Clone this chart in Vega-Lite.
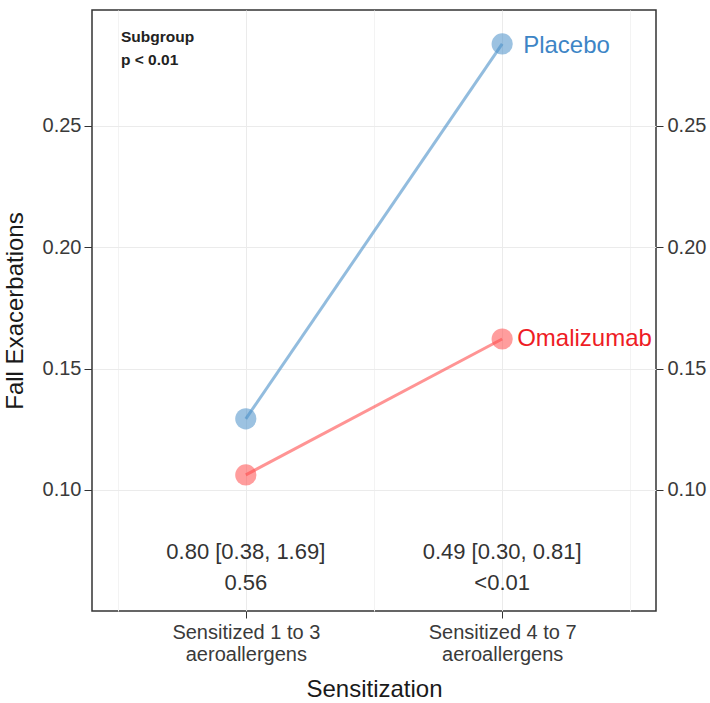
{
  "$schema": "https://vega.github.io/schema/vega-lite/v6.json",
  "autosize": "none",
  "padding": {"left": 92, "top": 10, "right": 54, "bottom": 92},
  "width": 564,
  "height": 601,
  "background": "white",
  "config": {
    "font": "Liberation Sans",
    "view": {"stroke": "#333333", "strokeWidth": 1.5},
    "axis": {
      "domain": false,
      "labelFont": "Liberation Sans",
      "titleFont": "Liberation Sans",
      "labelColor": "#3a3a3a",
      "titleColor": "#1a1a1a",
      "tickColor": "#333333",
      "labelFontSize": 20,
      "titleFontSize": 24,
      "titleFontWeight": "normal",
      "gridColor": "#ebebeb",
      "gridWidth": 1
    }
  },
  "datasets": {
    "pts": [
      {"group": "Placebo", "pos": 1, "sensitization": "Sensitized 1 to 3 aeroallergens", "rate": 0.1293},
      {"group": "Placebo", "pos": 2, "sensitization": "Sensitized 4 to 7 aeroallergens", "rate": 0.2838},
      {"group": "Omalizumab", "pos": 1, "sensitization": "Sensitized 1 to 3 aeroallergens", "rate": 0.1062},
      {"group": "Omalizumab", "pos": 2, "sensitization": "Sensitized 4 to 7 aeroallergens", "rate": 0.1622}
    ],
    "notes": [
      {"pos": 1, "y": 0.0745, "text": "0.80 [0.38, 1.69]"},
      {"pos": 1, "y": 0.0617, "text": "0.56"},
      {"pos": 2, "y": 0.0745, "text": "0.49 [0.30, 0.81]"},
      {"pos": 2, "y": 0.0617, "text": "<0.01"}
    ],
    "corner": [
      {"pos": 0.513, "y": 0.2867, "text": "Subgroup"},
      {"pos": 0.513, "y": 0.2772, "text": "p < 0.01"}
    ]
  },
  "layer": [
    {
      "data": {"name": "pts"},
      "mark": {"type": "line", "strokeWidth": 3, "opacity": 0.6},
      "encoding": {
        "x": {
          "field": "pos", "type": "quantitative",
          "scale": {"domain": [0.4, 2.6], "nice": false, "zero": false},
          "axis": {
            "title": "Sensitization",
            "values": [0.5, 1, 1.5, 2, 2.5],
            "labelExpr": "datum.value == 1 ? ['Sensitized 1 to 3', 'aeroallergens'] : datum.value == 2 ? ['Sensitized 4 to 7', 'aeroallergens'] : ''",
            "labelLineHeight": 22,
            "labelPadding": 4,
            "tickSize": 7,
            "tickColor": {"condition": {"test": "datum.value % 1 !== 0", "value": "transparent"}, "value": "#333333"},
            "gridColor": {"condition": {"test": "datum.value % 1 !== 0", "value": "#f3f3f3"}, "value": "#ebebeb"},
            "titlePadding": 13
          }
        },
        "y": {
          "field": "rate", "type": "quantitative",
          "scale": {"domain": [0.0501, 0.2978], "nice": false, "zero": false},
          "axis": {
            "orient": "left",
            "title": "Fall Exacerbations",
            "values": [0.1, 0.15, 0.2, 0.25],
            "format": ".2f",
            "tickSize": 8,
            "labelPadding": 3,
            "titlePadding": 15
          }
        },
        "color": {
          "field": "group", "type": "nominal",
          "scale": {"domain": ["Placebo", "Omalizumab"], "range": ["#4a90c8", "#ff4d4d"]},
          "legend": null
        },
        "detail": {"field": "group"}
      }
    },
    {
      "data": {"name": "pts"},
      "mark": {"type": "circle", "size": 450, "opacity": 0.55},
      "encoding": {
        "x": {"field": "pos", "type": "quantitative"},
        "y": {
          "field": "rate", "type": "quantitative",
          "axis": {
            "orient": "right",
            "title": null,
            "grid": false,
            "values": [0.1, 0.15, 0.2, 0.25],
            "format": ".2f",
            "tickSize": 7,
            "labelPadding": 4
          }
        },
        "color": {"field": "group", "type": "nominal", "legend": null}
      }
    },
    {
      "data": {"name": "pts"},
      "transform": [{"filter": "datum.group == 'Placebo' && datum.pos == 2"}],
      "mark": {"type": "text", "align": "left", "baseline": "middle", "dx": 21, "dy": 2, "fontSize": 24, "color": "#3d85c6"},
      "encoding": {
        "x": {"field": "pos", "type": "quantitative"},
        "y": {"field": "rate", "type": "quantitative", "axis": null},
        "text": {"field": "group"}
      }
    },
    {
      "data": {"name": "pts"},
      "transform": [{"filter": "datum.group == 'Omalizumab' && datum.pos == 2"}],
      "mark": {"type": "text", "align": "left", "baseline": "middle", "dx": 15, "fontSize": 24, "color": "#ee1c25"},
      "encoding": {
        "x": {"field": "pos", "type": "quantitative"},
        "y": {"field": "rate", "type": "quantitative", "axis": null},
        "text": {"field": "group"}
      }
    },
    {
      "data": {"name": "notes"},
      "mark": {"type": "text", "align": "center", "baseline": "middle", "fontSize": 22, "color": "#333333"},
      "encoding": {
        "x": {"field": "pos", "type": "quantitative"},
        "y": {"field": "y", "type": "quantitative", "axis": null},
        "text": {"field": "text"}
      }
    },
    {
      "data": {"name": "corner"},
      "mark": {"type": "text", "align": "left", "baseline": "middle", "fontSize": 15.5, "fontWeight": "bold", "color": "#222222"},
      "encoding": {
        "x": {"field": "pos", "type": "quantitative"},
        "y": {"field": "y", "type": "quantitative", "axis": null},
        "text": {"field": "text"}
      }
    }
  ],
  "resolve": {"axis": {"y": "independent"}}
}
